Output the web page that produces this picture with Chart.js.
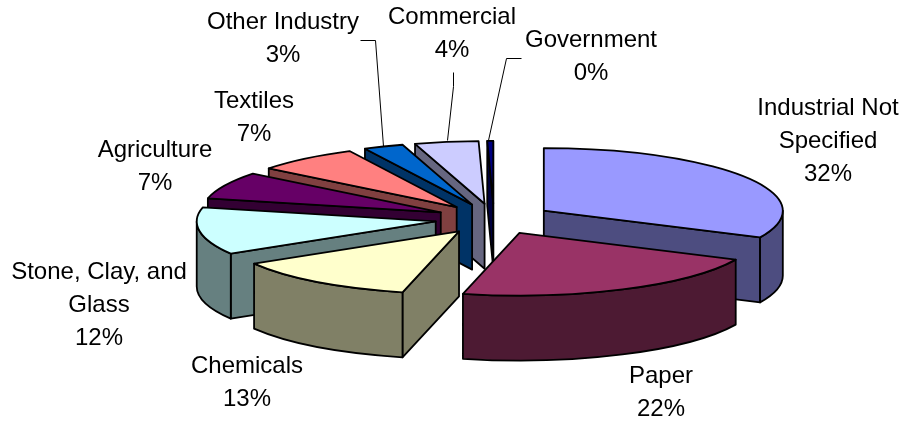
<!DOCTYPE html>
<html><head><meta charset="utf-8">
<style>html,body{margin:0;padding:0;background:#fff}canvas{display:block}</style>
<script src="https://cdn.jsdelivr.net/npm/chart.js@4"></script>
</head><body><canvas id="c" width="905" height="421"></canvas>
<script>
const categories = [['Industrial Not','Specified'],['Paper'],['Chemicals'],['Stone, Clay, and','Glass'],['Agriculture'],['Textiles'],['Other Industry'],['Commercial'],['Government']];
const shares = [32, 21.8, 12.6, 12.2, 7, 7, 2.7, 4.3, 0.4];
const faceColors = ['#9999FF','#993366','#FFFFCC','#CCFFFF','#660066','#FF8080','#0066CC','#CCCCFF','#000080'];
const wallColors = ['#4D4D80','#4D1A33','#808066','#668080','#330033','#804040','#003366','#666680','#000040'];

// layout of the 3D view and of the labels (not data)
const TILT = 0.262, DEPTH = 65, EXPLODE = 59, LINE_W = 1.8, LINE_H = 33;
const paintOrder = [8,7,6,5,4,3,2,0,1];
const labelAnchors = [[828,108],[661,376],[247,366],[99,272],[155,150],[254,101],[283,22],[452,17],[591,40]];
const leaders = {6:[[360,40],[375,40],[383,146]],7:[[453,72],[453,86],[447,140]],8:[[521,58],[506,58],[488,140]]};

const pie3d = {
  id:'pie3d',
  beforeDatasetsDraw(chart){
    const ctx = chart.ctx, arcs = chart.getDatasetMeta(0).data;
    ctx.save();
    ctx.lineJoin='round'; ctx.lineWidth=LINE_W; ctx.strokeStyle='#000';
    for(const i of paintOrder){
      const arc = arcs[i];
      const {x,y,startAngle:s,endAngle:e,outerRadius:R} = arc.getProps(['x','y','startAngle','endAngle','outerRadius']);
      const mid=(s+e)/2;
      const ax=x+Math.cos(mid)*EXPLODE, ay=y+Math.sin(mid)*EXPLODE*TILT;
      const pt=a=>[ax+Math.cos(a)*R, ay+Math.sin(a)*R*TILT];
      const poly=(pts,fill)=>{ctx.beginPath();pts.forEach((p,j)=>j?ctx.lineTo(p[0],p[1]):ctx.moveTo(p[0],p[1]));ctx.closePath();ctx.fillStyle=fill;ctx.fill();ctx.stroke();};
      // radial walls, only those facing the viewer
      const walls=[];
      if(Math.cos(s)<0) walls.push(s);
      if(Math.cos(e)>0) walls.push(e);
      for(const a of walls){
        const p=pt(a);
        poly([[ax,ay],p,[p[0],p[1]+DEPTH],[ax,ay+DEPTH]],wallColors[i]);
      }
      // curved outer wall (front half only)
      const a0=Math.max(s,0), a1=Math.min(e,Math.PI);
      if(a1>a0){
        ctx.beginPath();
        ctx.ellipse(ax,ay,R,R*TILT,0,a0,a1,false);
        ctx.ellipse(ax,ay+DEPTH,R,R*TILT,0,a1,a0,true);
        ctx.closePath();ctx.fillStyle=wallColors[i];ctx.fill();ctx.stroke();
      }
      // top face: the library's own arc, moved out and squashed
      ctx.save();
      ctx.translate(ax,ay);ctx.scale(1,TILT);ctx.translate(-x,-y);
      arc.draw(ctx);
      ctx.restore();
      ctx.beginPath();
      ctx.moveTo(ax,ay);
      ctx.ellipse(ax,ay,R,R*TILT,0,s,e,false);
      ctx.closePath();ctx.stroke();
    }
    ctx.restore();
    return false;
  },
  afterDraw(chart){
    const ctx=chart.ctx, total=shares.reduce((a,b)=>a+b,0);
    ctx.save();
    ctx.strokeStyle='#000';ctx.lineWidth=1;
    Object.values(leaders).forEach(pts=>{ctx.beginPath();pts.forEach((p,j)=>j?ctx.lineTo(p[0]+.5,p[1]+.5):ctx.moveTo(p[0]+.5,p[1]+.5));ctx.stroke();});
    ctx.fillStyle='#000';ctx.font='24px "Liberation Sans"';ctx.textAlign='center';ctx.textBaseline='middle';
    categories.forEach((lines,i)=>{
      const [x,y]=labelAnchors[i];
      [...lines,Math.round(shares[i]/total*100)+'%'].forEach((t,j)=>ctx.fillText(t,x,y+j*LINE_H));
    });
    ctx.restore();
  }
};
new Chart(document.getElementById('c'),{
  type:'pie',
  data:{labels:categories.map(l=>l.join(' ')),datasets:[{data:shares,backgroundColor:faceColors,borderWidth:0}]},
  options:{responsive:false,animation:false,radius:239,
    layout:{padding:{left:83,top:17}},
    events:[],
    plugins:{legend:{display:false},tooltip:{enabled:false}}},
  plugins:[pie3d]
});
</script></body></html>
